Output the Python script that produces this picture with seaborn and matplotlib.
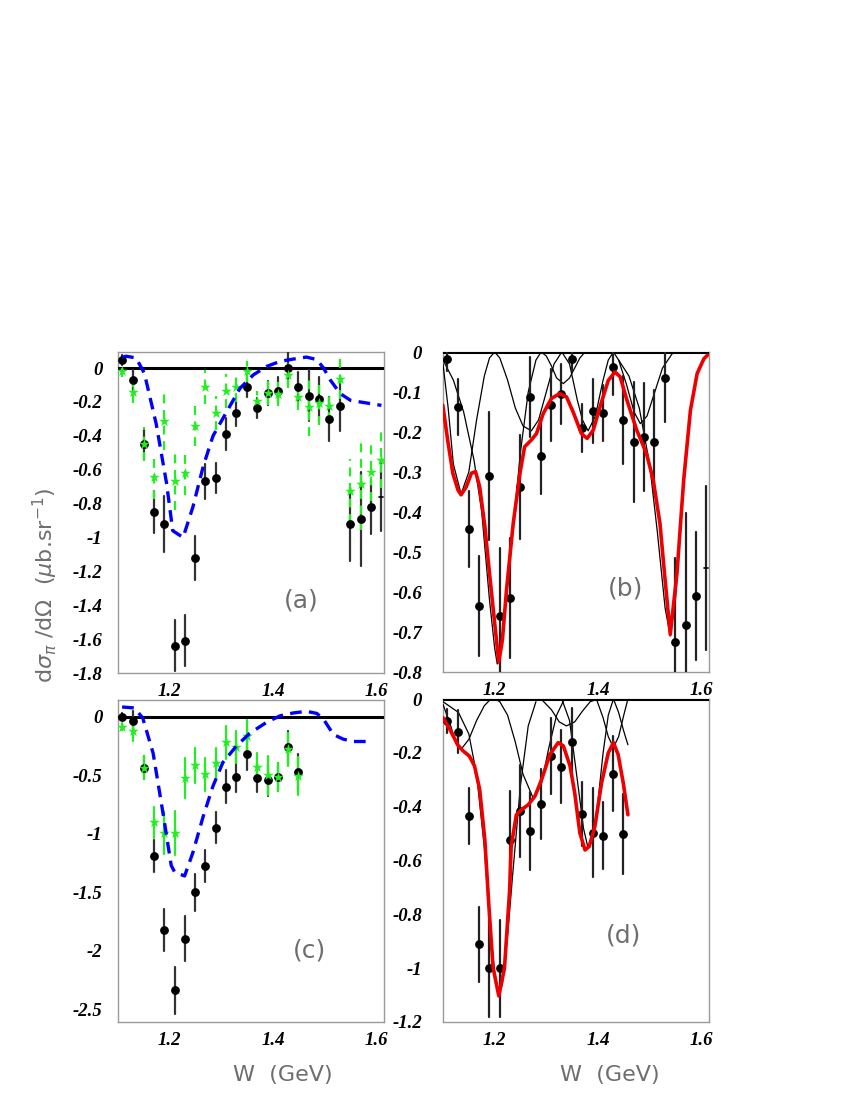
import numpy as np
import pandas as pd
import matplotlib
matplotlib.use("Agg")
import matplotlib.pyplot as plt
import seaborn as sns

# ---------------- data ----------------
W_pts = [1.108, 1.129, 1.150, 1.170, 1.189, 1.210, 1.229, 1.249, 1.269, 1.289, 1.309, 1.329, 1.350,
         1.370, 1.390, 1.410, 1.430, 1.449, 1.469, 1.489, 1.509, 1.530, 1.549, 1.570, 1.590, 1.610]

# panel (a)
a_black = [0.046, -0.073, -0.448, -0.848, -0.921, -1.64, -1.61, -1.121, -0.669, -0.648, -0.39, -0.267, -0.109,
           -0.234, -0.149, -0.133, 0.0, -0.113, -0.164, -0.184, -0.30, -0.224, -0.921, -0.891, -0.822, -0.762]
a_black_err = [0.03, 0.06, 0.09, 0.125, 0.165, 0.15, 0.15, 0.13, 0.105, 0.09, 0.095, 0.075, 0.06,
               0.06, 0.07, 0.08, 0.10, 0.09, 0.15, 0.13, 0.13, 0.15, 0.22, 0.28, 0.16, 0.20]
a_green = [-0.02, -0.139, -0.448, -0.644, -0.313, -0.667, -0.62, -0.34, -0.113, -0.263, -0.135, -0.109, -0.02,
           -0.194, -0.149, -0.152, -0.04, -0.168, -0.228, -0.208, -0.224, -0.065, -0.727, -0.687, -0.614, -0.54]
a_green_err = [0.03, 0.07, 0.10, 0.13, 0.17, 0.17, 0.13, 0.12, 0.10, 0.10, 0.10, 0.09, 0.06,
               0.06, 0.07, 0.07, 0.08, 0.08, 0.17, 0.13, 0.09, 0.12, 0.19, 0.27, 0.17, 0.17]
a_model_W = [1.108, 1.116, 1.135, 1.151, 1.174, 1.194, 1.206, 1.226, 1.245, 1.265, 1.284, 1.310, 1.336,
             1.362, 1.388, 1.414, 1.439, 1.465, 1.485, 1.498, 1.511, 1.530, 1.550, 1.569, 1.610]
a_model = [0.065, 0.07, 0.06, -0.03, -0.33, -0.68, -0.96, -1.0, -0.82, -0.58, -0.40, -0.26, -0.12,
           -0.04, 0.01, 0.04, 0.053, 0.065, 0.05, 0.0, -0.07, -0.15, -0.19, -0.20, -0.22]

# panel (b)
b_black = [-0.017, -0.137, -0.443, -0.635, -0.31, -0.661, -0.615, -0.337, -0.112, -0.259, -0.133, -0.106, -0.018,
           -0.191, -0.147, -0.152, -0.037, -0.17, -0.226, -0.212, -0.226, -0.066, -0.725, -0.683, -0.611, -0.540]
b_black_err = [0.03, 0.07, 0.095, 0.125, 0.16, 0.17, 0.15, 0.13, 0.10, 0.095, 0.09, 0.075, 0.03,
               0.06, 0.08, 0.07, 0.07, 0.11, 0.15, 0.135, 0.13, 0.11, 0.21, 0.28, 0.16, 0.205]
b_fit_W = [1.0997, 1.109, 1.119, 1.129, 1.135, 1.145, 1.155, 1.163, 1.171, 1.181, 1.190, 1.200, 1.208, 1.215,
           1.223, 1.236, 1.249, 1.258, 1.271, 1.281, 1.294, 1.310, 1.326, 1.339, 1.352, 1.368, 1.379, 1.391,
           1.404, 1.420, 1.433, 1.443, 1.456, 1.475, 1.494, 1.507, 1.520, 1.530, 1.540, 1.553, 1.566, 1.579,
           1.592, 1.605, 1.612]
b_fit = [-0.133, -0.22, -0.303, -0.345, -0.357, -0.337, -0.303, -0.299, -0.337, -0.436, -0.553, -0.677, -0.775,
         -0.72, -0.594, -0.428, -0.303, -0.237, -0.22, -0.204, -0.154, -0.116, -0.104, -0.112, -0.15, -0.204,
         -0.216, -0.195, -0.137, -0.071, -0.05, -0.062, -0.12, -0.195, -0.254, -0.32, -0.428, -0.57, -0.706,
         -0.553, -0.32, -0.146, -0.054, -0.017, -0.008]
b_comp_W = [
    [1.10, 1.12, 1.14, 1.16, 1.175, 1.19, 1.20, 1.205, 1.21, 1.22, 1.235, 1.25, 1.265, 1.28, 1.29],
    [1.10, 1.11, 1.12, 1.135, 1.15, 1.165, 1.18, 1.19, 1.2, 1.21, 1.225, 1.24, 1.255, 1.271, 1.285, 1.30,
     1.315, 1.33],
    [1.29, 1.30, 1.31, 1.32, 1.333, 1.345, 1.355, 1.365, 1.375],
    [1.33, 1.345, 1.36, 1.37, 1.381, 1.395, 1.41, 1.42, 1.43, 1.44, 1.455, 1.47, 1.482, 1.495, 1.51, 1.525,
     1.546],
    [1.44, 1.46, 1.48, 1.50, 1.515, 1.53, 1.54, 1.55, 1.565, 1.58, 1.595, 1.61],
]
b_comp = [
    [-0.02, -0.07, -0.15, -0.27, -0.40, -0.62, -0.74, -0.78, -0.76, -0.65, -0.45, -0.25, -0.10, -0.02, 0.0],
    [-0.03, -0.14, -0.28, -0.355, -0.30, -0.17, -0.06, -0.015, 0.0, -0.015, -0.07, -0.14, -0.185, -0.197,
     -0.17, -0.10, -0.03, 0.0],
    [0.0, -0.01, -0.035, -0.065, -0.079, -0.065, -0.04, -0.015, 0.0],
    [0.0, -0.03, -0.12, -0.17, -0.197, -0.16, -0.07, -0.02, 0.0, -0.02, -0.08, -0.15, -0.179, -0.16, -0.10,
     -0.04, 0.0],
    [-0.02, -0.06, -0.14, -0.28, -0.45, -0.64, -0.71, -0.62, -0.35, -0.14, -0.04, -0.01],
]

# panel (c)
c_W = W_pts[:18]
c_black = [0.0, -0.037, -0.435, -1.19, -1.82, -2.34, -1.896, -1.50, -1.275, -0.946, -0.597, -0.511, -0.321,
           -0.52, -0.54, -0.517, -0.256, -0.469]
c_black_err = [0.03, 0.09, 0.10, 0.14, 0.18, 0.20, 0.19, 0.16, 0.14, 0.13, 0.14, 0.135, 0.13,
               0.12, 0.14, 0.12, 0.14, 0.15]
c_green = [-0.085, -0.122, -0.435, -0.903, -0.994, -0.994, -0.52, -0.415, -0.491, -0.392, -0.216, -0.256, -0.165,
           -0.426, -0.50, -0.517, -0.278, -0.506]
c_green_err = [0.03, 0.085, 0.10, 0.13, 0.18, 0.19, 0.17, 0.15, 0.14, 0.13, 0.14, 0.135, 0.135,
               0.12, 0.17, 0.12, 0.14, 0.165]
c_model_W = [1.108, 1.132, 1.148, 1.168, 1.187, 1.203, 1.210, 1.229, 1.245, 1.265, 1.284, 1.303, 1.329,
             1.355, 1.388, 1.414, 1.439, 1.465, 1.485, 1.498, 1.517, 1.536, 1.556, 1.585]
c_model = [0.085, 0.077, -0.01, -0.31, -0.82, -1.27, -1.33, -1.36, -1.16, -0.85, -0.59, -0.39, -0.25,
           -0.14, -0.045, 0.01, 0.034, 0.048, 0.03, -0.02, -0.15, -0.19, -0.21, -0.21]

# panel (d)
d_W = W_pts[:18]
d_black = [-0.081, -0.122, -0.434, -0.911, -1.0, -1.0, -0.523, -0.417, -0.49, -0.39, -0.212, -0.252, -0.16,
           -0.427, -0.496, -0.508, -0.277, -0.502]
d_black_err = [0.045, 0.08, 0.105, 0.14, 0.18, 0.18, 0.18, 0.17, 0.145, 0.13, 0.14, 0.135, 0.125,
               0.12, 0.165, 0.125, 0.14, 0.15]
d_fit_W = [1.0997, 1.113, 1.129, 1.139, 1.151, 1.161, 1.171, 1.181, 1.189, 1.197, 1.208, 1.219, 1.229,
           1.232, 1.242, 1.252, 1.265, 1.278, 1.291, 1.307, 1.323, 1.333, 1.346, 1.355, 1.365, 1.375, 1.383,
           1.394, 1.407, 1.420, 1.430, 1.439, 1.449, 1.458]
d_fit = [-0.069, -0.112, -0.172, -0.193, -0.212, -0.249, -0.336, -0.523, -0.774, -0.998, -1.103, -1.0, -0.71,
         -0.548, -0.43, -0.411, -0.393, -0.361, -0.299, -0.206, -0.162, -0.174, -0.249, -0.349, -0.498, -0.561,
         -0.548, -0.474, -0.312, -0.20, -0.162, -0.206, -0.312, -0.43]
d_comp_W = [
    [1.10, 1.13, 1.15, 1.165, 1.18, 1.19, 1.20, 1.208, 1.215, 1.225, 1.235, 1.25, 1.265, 1.28],
    [1.10, 1.115, 1.125, 1.135, 1.15, 1.165, 1.18, 1.19, 1.2, 1.21, 1.225, 1.24, 1.255, 1.275, 1.29, 1.305,
     1.32, 1.335],
    [1.29, 1.31, 1.325, 1.339, 1.355, 1.37, 1.385, 1.40],
    [1.33, 1.345, 1.36, 1.372, 1.381, 1.39, 1.40, 1.41, 1.42, 1.43, 1.44, 1.45, 1.458],
    [1.397, 1.41, 1.42, 1.43, 1.44, 1.45, 1.458],
]
d_comp = [
    [-0.01, -0.05, -0.13, -0.28, -0.55, -0.82, -1.02, -1.10, -1.06, -0.88, -0.65, -0.32, -0.10, -0.01],
    [-0.02, -0.10, -0.165, -0.187, -0.15, -0.08, -0.025, -0.005, 0.0, -0.01, -0.06, -0.16, -0.28, -0.37,
     -0.32, -0.18, -0.06, 0.0],
    [0.0, -0.04, -0.085, -0.10, -0.085, -0.045, -0.01, 0.0],
    [0.0, -0.08, -0.30, -0.48, -0.555, -0.52, -0.38, -0.20, -0.06, 0.0, -0.05, -0.12, -0.17],
    [0.0, -0.07, -0.14, -0.18, -0.14, -0.06, 0.0],
]

# ---------------- style ----------------
sns.set_theme(style="white")
plt.rcParams["font.family"] = ["DejaVu Sans"]
TICKFONT = dict(family="Liberation Serif", weight="bold", style="italic", size=13.5)
GREEN = "#22ee22"
LABEL_GRAY = "#6e6e6e"

fig = plt.figure(figsize=(8.5, 11), dpi=100)
L1, L2, WID = 118 / 850, 443 / 850, 266 / 850
axa = fig.add_axes([L1, 1 - 673 / 1100, WID, 321 / 1100])
axb = fig.add_axes([L2, 1 - 672 / 1100, WID, 320 / 1100])
axc = fig.add_axes([L1, 1 - 1022 / 1100, WID, 322 / 1100])
axd = fig.add_axes([L2, 1 - 1022 / 1100, WID, 323 / 1100])


def style_axis(ax, ylim, ymaj, ymin_step, ylabels, ypad):
    ax.set_xlim(1.1, 1.615)
    ax.set_ylim(*ylim)
    for s in ax.spines.values():
        s.set_color("#9a9a9a")
        s.set_linewidth(1.0)
    ax.set_xticks([1.2, 1.4, 1.6])
    ax.set_xticks(np.arange(1.15, 1.61, 0.05), minor=True)
    ax.set_yticks(ymaj)
    ax.set_yticks(np.arange(ylim[0], ylim[1] + 1e-9, ymin_step), minor=True)
    ax.set_yticklabels(ylabels, fontdict=TICKFONT)
    ax.set_xticklabels(["1.2", "1.4", "1.6"], fontdict=TICKFONT)
    ax.tick_params(axis="both", which="major", direction="in", length=9, width=1.0, color="#8a8a8a",
                   top=False, right=False, labelcolor="black")
    ax.tick_params(axis="both", which="minor", direction="in", length=5, width=1.0, color="#8a8a8a",
                   top=False, right=False)
    ax.tick_params(axis="y", which="major", pad=ypad)
    ax.tick_params(axis="x", which="major", pad=7)
    ax.axhline(0, color="black", lw=2.2, zorder=3)


def draw_errs(ax, W, vals, errs, color, dashed, z):
    for w, v, e in zip(W, vals, errs):
        ax.plot([w, w], [v - e, v + e], color=color, lw=1.6, zorder=z,
                linestyle=(0, (4, 3)) if dashed else "-")


# ---- panel (a)
style_axis(axa, (-1.8, 0.095), [0, -0.2, -0.4, -0.6, -0.8, -1, -1.2, -1.4, -1.6, -1.8], 0.05,
           ["0", "-0.2", "-0.4", "-0.6", "-0.8", "-1", "-1.2", "-1.4", "-1.6", "-1.8"], 11)
draw_errs(axa, W_pts, a_black, a_black_err, "#333333", False, 4)
draw_errs(axa, W_pts, a_green, a_green_err, GREEN, True, 5)
dfa = pd.DataFrame({"W": W_pts, "black": a_black, "green": a_green})
sns.scatterplot(data=dfa.iloc[:-1], x="W", y="black", ax=axa, color="black", s=40, edgecolor="black",
                linewidth=0, zorder=6, legend=False)
axa.plot([W_pts[-1] - 0.004, W_pts[-1] + 0.004], [a_black[-1]] * 2, color="black", lw=1.2, zorder=6)
sns.scatterplot(data=dfa, x="W", y="green", ax=axa, color=GREEN, marker="*", s=65, edgecolor=GREEN,
                linewidth=0, zorder=7, legend=False)
sns.lineplot(x=a_model_W, y=a_model, ax=axa, color="#0000ff", lw=2.4, linestyle=(0, (3.5, 2.2)),
             zorder=8, sort=False)
axa.text(1.455, -1.37, "(a)", fontsize=18, color=LABEL_GRAY, ha="center", va="center")

# ---- panel (b)
style_axis(axb, (-0.8, 0.0), [0, -0.1, -0.2, -0.3, -0.4, -0.5, -0.6, -0.7, -0.8], 0.025,
           ["0", "-0.1", "-0.2", "-0.3", "-0.4", "-0.5", "-0.6", "-0.7", "-0.8"], 15)
for cw, cv in zip(b_comp_W, b_comp):
    sns.lineplot(x=cw, y=cv, ax=axb, color="black", lw=0.9, zorder=4, sort=False)
draw_errs(axb, W_pts, b_black, b_black_err, "#222222", False, 5)
dfb = pd.DataFrame({"W": W_pts, "black": b_black})
sns.scatterplot(data=dfb.iloc[:-1], x="W", y="black", ax=axb, color="black", s=40, linewidth=0, zorder=6,
                legend=False)
axb.plot([W_pts[-1] - 0.004, W_pts[-1] + 0.004], [b_black[-1]] * 2, color="black", lw=1.2, zorder=6)
sns.lineplot(x=b_fit_W, y=b_fit, ax=axb, color="#ee0000", lw=2.6, zorder=7, sort=False)
axb.text(1.454, -0.59, "(b)", fontsize=18, color=LABEL_GRAY, ha="center", va="center")

# ---- panel (c)
style_axis(axc, (-2.61, 0.145), [0, -0.5, -1, -1.5, -2, -2.5], 0.1,
           ["0", "-0.5", "-1", "-1.5", "-2", "-2.5"], 11)
draw_errs(axc, c_W, c_black, c_black_err, "#333333", False, 4)
draw_errs(axc, c_W, c_green, c_green_err, GREEN, False, 5)
dfc = pd.DataFrame({"W": c_W, "black": c_black, "green": c_green})
sns.scatterplot(data=dfc, x="W", y="black", ax=axc, color="black", s=40, linewidth=0, zorder=6, legend=False)
sns.scatterplot(data=dfc, x="W", y="green", ax=axc, color=GREEN, marker="*", s=65, linewidth=0, zorder=7,
                legend=False)
sns.lineplot(x=c_model_W, y=c_model, ax=axc, color="#0000ff", lw=2.4, linestyle=(0, (3.5, 2.2)),
             zorder=8, sort=False)
axc.text(1.47, -2.0, "(c)", fontsize=18, color=LABEL_GRAY, ha="center", va="center")

# ---- panel (d)
style_axis(axd, (-1.2, 0.0), [0, -0.2, -0.4, -0.6, -0.8, -1, -1.2], 0.05,
           ["0", "-0.2", "-0.4", "-0.6", "-0.8", "-1", "-1.2"], 15)
for cw, cv in zip(d_comp_W, d_comp):
    sns.lineplot(x=cw, y=cv, ax=axd, color="black", lw=0.9, zorder=4, sort=False)
draw_errs(axd, d_W, d_black, d_black_err, "#222222", False, 5)
dfd = pd.DataFrame({"W": d_W, "black": d_black})
sns.scatterplot(data=dfd, x="W", y="black", ax=axd, color="black", s=40, linewidth=0, zorder=6, legend=False)
sns.lineplot(x=d_fit_W, y=d_fit, ax=axd, color="#ee0000", lw=2.6, zorder=7, sort=False)
axd.text(1.45, -0.88, "(d)", fontsize=18, color=LABEL_GRAY, ha="center", va="center")

for ax in (axa, axb, axc, axd):
    ax.set_xlabel("")
    ax.set_ylabel("")

# ---- axis titles
fig.text(45 / 850, 1 - 585 / 1100, r"d$\sigma_{\pi}$ /d$\Omega$  ($\mu$b.sr$^{-1}$)", rotation=90,
         fontsize=16, color=LABEL_GRAY, ha="center", va="center")
fig.text(283 / 850, 1 - 1075 / 1100, "W  (GeV)", fontsize=16, color=LABEL_GRAY, ha="center", va="center")
fig.text(610 / 850, 1 - 1075 / 1100, "W  (GeV)", fontsize=16, color=LABEL_GRAY, ha="center", va="center")

fig.savefig("out.png", dpi=100)
